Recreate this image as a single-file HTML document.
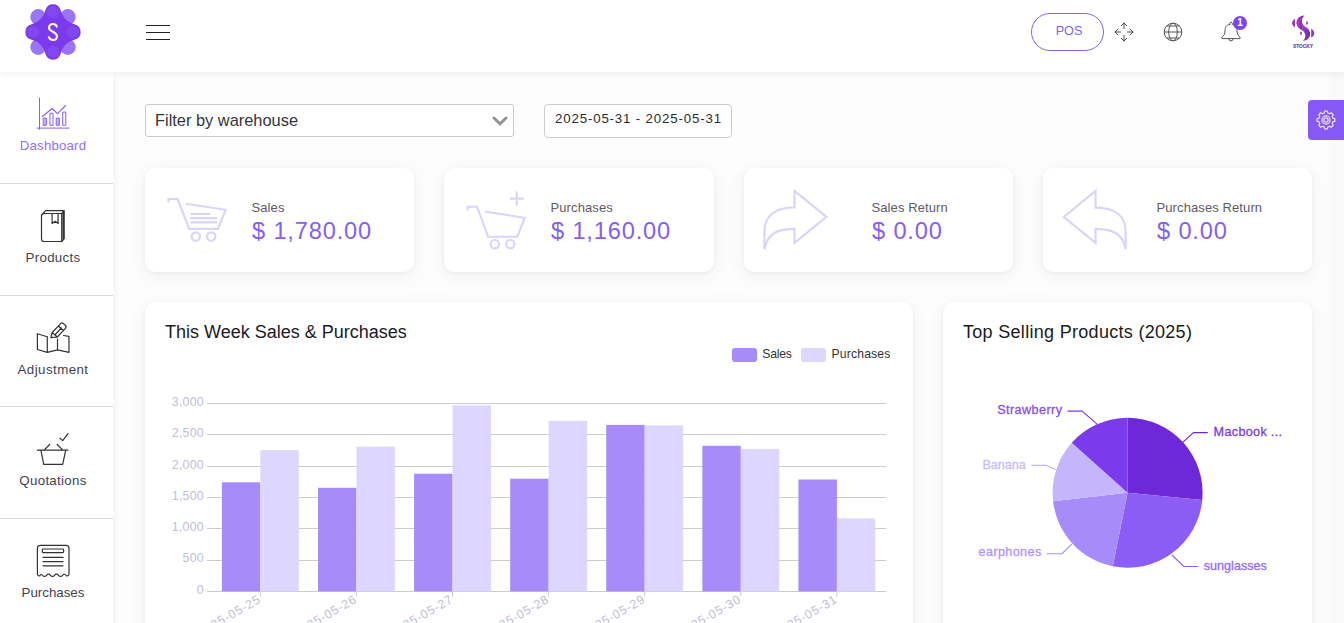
<!DOCTYPE html>
<html>
<head>
<meta charset="utf-8">
<style>
*{box-sizing:border-box;margin:0;padding:0}
html,body{width:1344px;height:623px;overflow:hidden;background:#fdfdfd;font-family:"Liberation Sans",sans-serif;color:#47404f}
svg text{font-family:"Liberation Sans",sans-serif}
.abs{position:absolute}
#header{position:absolute;left:0;top:0;width:1344px;height:72px;background:#fff;box-shadow:0 1px 7px rgba(0,0,0,0.075);z-index:5}
#sidebar{position:absolute;left:0;top:72px;width:113px;height:560px;background:#fff;box-shadow:0 4px 9px rgba(0,0,0,0.07);z-index:4}
.sep{position:absolute;left:0;width:113px;height:1px;background:#dcdcde}
.lbl{position:absolute;left:0;width:106px;text-align:center;font-size:13.3px;color:#453f4d;white-space:nowrap}
.card{position:absolute;background:#fff;border-radius:10px;box-shadow:0 4px 20px 1px rgba(0,0,0,0.05),0 1px 4px rgba(0,0,0,0.05)}
.t{position:absolute;letter-spacing:0.1px;font-size:13px;color:#5f5a66;white-space:nowrap}
.v{position:absolute;font-size:23.6px;color:#8560ee;white-space:nowrap;letter-spacing:0.85px}
.title{position:absolute;font-size:18px;color:#1b1a22;white-space:nowrap}
</style>
</head>
<body>
<div id="header">
  <!-- logo -->
  <svg class="abs" style="left:23.200px;top:1.700px" width="60" height="60" viewBox="-30 -30 60 60">
    <g fill="#9b75f8">
      <circle cx="-14.800" cy="-15" r="7.900"/><circle cx="14.800" cy="-15" r="7.900"/>
      <circle cx="-14.800" cy="15" r="7.900"/><circle cx="14.800" cy="15" r="7.900"/>
    </g>
    <path fill="#7c3aed" d="M-7.5,-22 A7.8,7.8 0 0 1 7.5,-22 Q10.5,-10.5 22,-7.5 A7.8,7.8 0 0 1 22,7.5 Q10.5,10.5 7.5,22 A7.8,7.8 0 0 1 -7.5,22 Q-10.5,10.5 -22,7.5 A7.8,7.8 0 0 1 -22,-7.5 Q-10.5,-10.5 -7.5,-22 Z"/>
    <g fill="#8b5cf6" opacity="0.4">
      <circle cx="0" cy="-20" r="6"/><circle cx="0" cy="20" r="6"/><circle cx="-20" cy="0" r="6"/><circle cx="20" cy="0" r="6"/>
    </g>
    <path transform="translate(0,0.700) scale(0.88,0.93)" d="M4.3,-6.5 C3.5,-8.5 1.8,-9.3 0,-9.3 C-2.8,-9.3 -4.5,-7.7 -4.5,-5.3 C-4.5,-0.5 4.5,-1.5 4.5,3.8 C4.5,6.300 2.6,7.8 0,7.8 C-2.2,7.8 -4,6.8 -4.8,4.8" fill="none" stroke="#fff" stroke-width="2.300" stroke-linecap="round"/>
  </svg>
  <!-- hamburger -->
  <div class="abs" style="left:146px;top:25px;width:24px;height:1px;background:#222"></div>
  <div class="abs" style="left:146px;top:32px;width:24px;height:1px;background:#222"></div>
  <div class="abs" style="left:146px;top:39px;width:24px;height:1px;background:#222"></div>
  <!-- POS -->
  <div class="abs" style="left:1031px;top:13px;width:73px;height:38px;border:1px solid #8762ef;border-radius:19px;color:#8762ef;font-size:12.600px;text-align:center;line-height:35px;padding-left:3px">POS</div>
  <!-- move icon -->
  <svg class="abs" style="left:1112.500px;top:21px" width="22" height="22" viewBox="-11 -11 22 22" fill="none" stroke="#4a4a4a" stroke-width="1" stroke-linecap="round" stroke-linejoin="round">
    <path d="M0,-3.500V-9M-2.800,-6.200L0,-9L2.800,-6.200 M0,3.500V9M-2.800,6.200L0,9L2.800,6.200 M-3.500,0H-9M-6.200,-2.800L-9,0L-6.200,2.800 M3.500,0H9M6.200,-2.800L9,0L6.200,2.800"/>
  </svg>
  <!-- globe -->
  <svg class="abs" style="left:1162px;top:21px" width="22" height="22" viewBox="-11 -11 22 22" fill="none" stroke="#555" stroke-width="1">
    <circle r="8.800"/><ellipse rx="4.300" ry="8.800"/><path d="M-8.800,0H8.800M-6.500,-6H6.500M-6.500,6H6.500"/>
  </svg>
  <!-- bell -->
  <svg class="abs" style="left:1219px;top:20px" width="24" height="24" viewBox="-12 -12 24 24" fill="none" stroke="#555" stroke-width="1" stroke-linejoin="round" stroke-linecap="round">
    <path d="M-1.300,-7.700 V-8.500 A1.300,1.300 0 0 1 1.300,-8.500 V-7.700 C4.800,-6.900 6,-4.300 6,-1.500 C6,2 7,3.600 9,5.200 Q9.900,6 9,6.600 H-9 Q-9.900,6 -9,5.200 C-7,3.600 -6,2 -6,-1.500 C-6,-4.300 -4.800,-6.900 -1.300,-7.700Z"/>
    <path d="M-2.200,6.800 A2.200,2.100 0 0 0 2.200,6.800"/>
  </svg>
  <div class="abs" style="left:1233px;top:16px;width:14px;height:14px;border-radius:7px;background:#7d45ec;color:#fff;font-size:10px;font-weight:bold;text-align:center;line-height:14px">1</div>
  <!-- stocky logo -->
  <svg class="abs" style="left:1288px;top:14px" width="30" height="36" viewBox="0 0 30 36">
    <defs><linearGradient id="sg" x1="0" y1="0" x2="1" y2="0.3"><stop offset="0" stop-color="#c637cf"/><stop offset="1" stop-color="#6032aa"/></linearGradient></defs>
    <path fill="url(#sg)" d="M16.5,1.6 C10,1.6 7.3,7 8.8,11 C10.3,15 14.5,16 17,18.3 C18.2,14.5 15.5,11.8 14.3,9.2 C13.2,6.7 14.2,3.6 16.5,1.6Z"/>
    <path fill="url(#sg)" d="M15,27 C20.500,26.500 23,22 21.8,17.8 C20.7,14 16.500,12.8 13.9,10.600 C13.2,14.500 15.700,17 16.800,19.500 C17.900,22 17.200,25 15,27Z"/>
    <path fill="#8a3cc0" d="M7,4.800 C3,7.500 3,11 7,13.300Z"/>
    <path fill="#8a3cc0" d="M23.200,14.800 C27.300,17 27.300,21.300 23.200,23.800Z"/>
    <rect x="18.300" y="7.500" width="1.400" height="3" fill="#7e22ce"/><rect x="12.300" y="17.800" width="1.400" height="3" fill="#7e22ce"/>
    <text x="14.900" y="33.800" font-size="4.800" font-weight="bold" text-anchor="middle" fill="#6b4fb0" stroke="#6b4fb0" stroke-width="0.200">STOCKY</text>
  </svg>
</div>

<div id="sidebar"></div>
<div style="position:absolute;left:0;top:0;z-index:6">
  <div class="sep" style="top:183px"></div>
  <div class="sep" style="top:295px"></div>
  <div class="sep" style="top:406px"></div>
  <div class="sep" style="top:518px"></div>
  <div class="lbl" id="l1" style="top:138px;letter-spacing:0.15px;color:#9272f5">Dashboard</div>
  <div class="lbl" id="l2" style="top:250px;letter-spacing:0.3px">Products</div>
  <div class="lbl" id="l3" style="top:362px;letter-spacing:0.45px">Adjustment</div>
  <div class="lbl" id="l4" style="top:473px;letter-spacing:0.3px">Quotations</div>
  <div class="lbl" id="l5" style="top:585px">Purchases</div>
  <!-- dashboard icon -->
  <svg class="abs" style="left:0;top:0" width="113" height="623" viewBox="0 0 113 623" fill="none" stroke-linecap="round" stroke-linejoin="round">
    <g stroke="#8b5cf6" stroke-width="1">
      <path d="M39.500,98V129.300M37,128.100H69.200"/>
      <path d="M42.300,116.500L52.100,108.500L57.500,113.600L65.600,105.500" stroke-width="1.100"/>
      <rect x="43.600" y="118.100" width="2.700" height="7.200" fill="#c4b5fd"/>
      <rect x="50.300" y="113.300" width="2.700" height="12"/>
      <rect x="56.600" y="118.100" width="2.700" height="7.200" fill="#c4b5fd"/>
      <rect x="63.100" y="112.100" width="2.700" height="13.200"/>
    </g>
    <g stroke="#333" stroke-width="1.200">
      <!-- products: book -->
      <path d="M44,213.500H61.700V241.500H44A2.500,2.500 0 0 1 41.500,239V216A2.500,2.500 0 0 1 44,213.500Z"/>
      <path d="M42.300,214.300L45.500,210.600H64.200V238.500L61.700,241.500M61.700,213.500L64.200,210.600M63,212.500V240"/>
      <path d="M52.100,213.500V223.500L55.100,221.300L58.100,223.500V213.500"/>
      <!-- adjustment: map + pencil -->
      <path d="M47.300,336.700L37.400,333.700V349.500L47.300,352.300L57.500,349.900L69,352.300V336.300L63.500,335.500M47.300,336.700V352.300M57.500,339V349.900"/>
      <path d="M50.900,337.600L52.200,332.500L60.300,323.800A2.300,2.300 0 0 1 63.500,323.600L65.300,325.200A2.300,2.300 0 0 1 65.400,328.400L57.300,337L50.900,337.600ZM52.200,332.500L57.300,337M58.300,326L63.400,330.500M55.300,334.500L61.300,328"/>
      <!-- quotations: basket -->
      <path d="M37.400,450.200H68M41,450.700L43.700,464.300H62.700L65.600,450.700M44.300,449.900L49.700,444.500M62.600,449.900L57.200,444.500M59.900,438.200L62.700,440.600L68,433.600"/>
      <!-- purchases: receipt -->
      <path d="M37.400,573.500V548.400A3,3 0 0 1 40.400,545.400H66A3,3 0 0 1 69,548.400V573.500A2,2 0 0 1 66.500,575.800Q64.500,573 62.500,575.300Q60.500,577.500 58.500,575.300Q56.500,573 54.500,575.300Q52.500,577.500 50.500,575.300Q48.500,573 46.500,575.300Q44.500,577.500 42.500,575.300Q41,573.500 39.900,575.800A2,2 0 0 1 37.400,573.500Z"/>
      <rect x="42.300" y="549" width="21.300" height="3.600" rx="0.800"/>
      <path d="M43.100,557.400H63M43.100,561.600H63M43.100,565.800H63"/>
    </g>
  </svg>
</div>

<!-- settings tab -->
<div class="abs" style="left:1308px;top:100px;width:40px;height:40px;background:#8659f4;border-radius:4px 0 0 4px;z-index:3"></div>
<svg class="abs" style="left:1314px;top:107.700px;z-index:3" width="24" height="24" viewBox="-14.600 -14.600 29.200 29.200" fill="none" stroke="#e9e1ff" stroke-width="1.550" stroke-linejoin="round">
  <path d="M-2.32,-8.38 L-1.74,-10.76 L1.74,-10.76 L2.32,-8.38 L4.29,-7.57 L6.38,-8.84 L8.84,-6.38 L7.57,-4.29 L8.38,-2.32 L10.76,-1.74 L10.76,1.74 L8.38,2.32 L7.57,4.29 L8.84,6.38 L6.38,8.84 L4.29,7.57 L2.32,8.38 L1.74,10.76 L-1.74,10.76 L-2.32,8.38 L-4.29,7.57 L-6.38,8.84 L-8.84,6.38 L-7.57,4.29 L-8.38,2.32 L-10.76,1.74 L-10.76,-1.74 L-8.38,-2.32 L-7.57,-4.29 L-8.84,-6.38 L-6.38,-8.84 L-4.29,-7.57Z"/>
  <circle r="5"/><circle r="2.600"/>
</svg>

<div class="abs" style="left:1324px;top:71px;width:20px;height:560px;background:linear-gradient(90deg,rgba(0,0,0,0),rgba(0,0,0,0.017) 45%,rgba(0,0,0,0.017));z-index:1"></div>
<!-- filters -->
<div class="abs" style="left:145px;top:104px;width:369px;height:33px;border:1px solid #cacaca;border-radius:3px;background:#fff;font-size:16.400px;line-height:31px;padding-left:9px;color:#35353a">Filter by warehouse</div>
<svg class="abs" style="left:491px;top:114px" width="18" height="14" viewBox="0 0 18 14" fill="none" stroke="#959595" stroke-width="3" stroke-linecap="round" stroke-linejoin="round"><path d="M3,4L9,9.800L15,4"/></svg>
<div class="abs" style="left:544px;top:104px;width:188px;height:34px;border:1px solid #cdcdcd;border-radius:4px;background:#fff;font-size:13.300px;line-height:28px;padding-left:10px;color:#2a2c33;letter-spacing:0.830px">2025-05-31 - 2025-05-31</div>

<!-- stat cards -->
<div class="card" style="left:145px;top:168px;width:269px;height:104px"></div>
<div class="card" style="left:444px;top:168px;width:270px;height:104px"></div>
<div class="card" style="left:744px;top:168px;width:269px;height:104px"></div>
<div class="card" style="left:1043px;top:168px;width:269px;height:104px"></div>
<div class="t" style="left:251.5px;top:200px">Sales</div><div class="v" style="left:252px;top:218px">$ 1,780.00</div>
<div class="t" style="left:550.5px;top:200px">Purchases</div><div class="v" style="left:551px;top:218px">$ 1,160.00</div>
<div class="t" style="left:871.5px;top:200px">Sales Return</div><div class="v" style="left:872px;top:218px">$ 0.00</div>
<div class="t" style="left:1156.5px;top:200px">Purchases Return</div><div class="v" style="left:1157px;top:218px">$ 0.00</div>
<svg class="abs" style="left:0;top:0;z-index:2" width="1344" height="300" viewBox="0 0 1344 300" fill="none" stroke="#d9d4fa" stroke-width="2.150" stroke-linejoin="miter">
  <!-- sales cart -->
  <path d="M168.400,202.500V199H177.600L189.200,228.800H218L225.500,209.800L185.700,203.700"/>
  <path d="M190.400,214H210.300M190.400,218.100H217M190.400,222.400H217"/>
  <circle cx="195.800" cy="236.500" r="4.200"/><circle cx="211.200" cy="236.500" r="4.200"/>
  <!-- purchases cart -->
  <path d="M467.700,210.400V206.700H477L488.100,236.700H517.400L524.700,217.900L484.900,211.500"/>
  <circle cx="494.900" cy="244.200" r="4.200"/><circle cx="510.300" cy="244.200" r="4.200"/>
  <path d="M516.800,191.600V205.600M509.800,198.600H523.800"/>
  <!-- sales return -->
  <path d="M794.500,190.900L826.400,216.800L794.500,242.900V228.800C779,228.800 767.500,232.500 764.400,249.300V232C764.400,216 775,207.300 794.500,207.300Z"/>
  <!-- purchases return -->
  <path d="M1095.600,190.900L1063.900,217L1095.600,242.900V228.800C1111,228.800 1122.500,232.500 1125.700,249.300V232C1125.700,216 1115,207.600 1095.600,207.600Z"/>
</svg>

<!-- chart cards -->
<div class="card" style="left:145px;top:302px;width:768px;height:340px"></div>
<div class="card" style="left:943px;top:302px;width:369px;height:340px"></div>
<div class="title" style="left:165px;top:322px;letter-spacing:0px">This Week Sales &amp; Purchases</div>
<div class="title" style="left:963px;top:322px;letter-spacing:0.300px">Top Selling Products (2025)</div>
<svg class="abs" style="left:0;top:0;z-index:2" width="1344" height="623" viewBox="0 0 1344 623">
<rect x="207" y="403" width="679" height="1" fill="#cccccc"/>
<rect x="207" y="434" width="679" height="1" fill="#cccccc"/>
<rect x="207" y="466" width="679" height="1" fill="#cccccc"/>
<rect x="207" y="497" width="679" height="1" fill="#cccccc"/>
<rect x="207" y="528" width="679" height="1" fill="#cccccc"/>
<rect x="207" y="560" width="679" height="1" fill="#cccccc"/>
<rect x="207" y="591" width="679" height="1" fill="#cccccc"/>
<rect x="221.9" y="482.3" width="38.45" height="109.1" fill="#a78bfa"/>
<rect x="260.35" y="450.1" width="38.45" height="141.3" fill="#ddd6fe"/>
<rect x="259.9" y="591.4" width="1" height="5" fill="#cccccc"/>
<rect x="317.99" y="487.8" width="38.45" height="103.6" fill="#a78bfa"/>
<rect x="356.44" y="446.6" width="38.45" height="144.8" fill="#ddd6fe"/>
<rect x="355.9" y="591.4" width="1" height="5" fill="#cccccc"/>
<rect x="414.08000000000004" y="473.7" width="38.45" height="117.7" fill="#a78bfa"/>
<rect x="452.53" y="405.4" width="38.45" height="186.0" fill="#ddd6fe"/>
<rect x="452.0" y="591.4" width="1" height="5" fill="#cccccc"/>
<rect x="510.16999999999996" y="478.7" width="38.45" height="112.7" fill="#a78bfa"/>
<rect x="548.62" y="420.8" width="38.45" height="170.6" fill="#ddd6fe"/>
<rect x="548.1" y="591.4" width="1" height="5" fill="#cccccc"/>
<rect x="606.26" y="424.9" width="38.45" height="166.5" fill="#a78bfa"/>
<rect x="644.71" y="425.4" width="38.45" height="166.0" fill="#ddd6fe"/>
<rect x="644.2" y="591.4" width="1" height="5" fill="#cccccc"/>
<rect x="702.35" y="445.8" width="38.45" height="145.6" fill="#a78bfa"/>
<rect x="740.80" y="448.9" width="38.45" height="142.5" fill="#ddd6fe"/>
<rect x="740.3" y="591.4" width="1" height="5" fill="#cccccc"/>
<rect x="798.4399999999999" y="479.5" width="38.45" height="111.9" fill="#a78bfa"/>
<rect x="836.89" y="518.4" width="38.45" height="73.0" fill="#ddd6fe"/>
<rect x="836.4" y="591.4" width="1" height="5" fill="#cccccc"/>
<text x="204" y="405.8" text-anchor="end" font-size="12.4" fill="#c0bed4" letter-spacing="0.25">3,000</text>
<text x="204" y="437.1" text-anchor="end" font-size="12.4" fill="#c0bed4" letter-spacing="0.25">2,500</text>
<text x="204" y="468.5" text-anchor="end" font-size="12.4" fill="#c0bed4" letter-spacing="0.25">2,000</text>
<text x="204" y="499.8" text-anchor="end" font-size="12.4" fill="#c0bed4" letter-spacing="0.25">1,500</text>
<text x="204" y="531.1" text-anchor="end" font-size="12.4" fill="#c0bed4" letter-spacing="0.25">1,000</text>
<text x="204" y="562.4" text-anchor="end" font-size="12.4" fill="#c0bed4" letter-spacing="0.25">500</text>
<text x="204" y="593.8" text-anchor="end" font-size="12.4" fill="#c0bed4" letter-spacing="0.25">0</text>
<text transform="translate(261.6,601.8) rotate(-30)" text-anchor="end" font-size="12.4" fill="#c0bed4" letter-spacing="0.7">2025-05-25</text>
<text transform="translate(357.7,601.8) rotate(-30)" text-anchor="end" font-size="12.4" fill="#c0bed4" letter-spacing="0.7">2025-05-26</text>
<text transform="translate(453.8,601.8) rotate(-30)" text-anchor="end" font-size="12.4" fill="#c0bed4" letter-spacing="0.7">2025-05-27</text>
<text transform="translate(549.9,601.8) rotate(-30)" text-anchor="end" font-size="12.4" fill="#c0bed4" letter-spacing="0.7">2025-05-28</text>
<text transform="translate(646.0,601.8) rotate(-30)" text-anchor="end" font-size="12.4" fill="#c0bed4" letter-spacing="0.7">2025-05-29</text>
<text transform="translate(742.0,601.8) rotate(-30)" text-anchor="end" font-size="12.4" fill="#c0bed4" letter-spacing="0.7">2025-05-30</text>
<text transform="translate(838.1,601.8) rotate(-30)" text-anchor="end" font-size="12.4" fill="#c0bed4" letter-spacing="0.7">2025-05-31</text>
<rect x="732" y="348" width="25" height="14" rx="3" fill="#a78bfa"/>
<text x="762.2" y="358.3" font-size="12.2" fill="#333" textLength="29.7" lengthAdjust="spacing">Sales</text>
<rect x="801" y="348" width="25" height="14" rx="3" fill="#ddd6fe"/>
<text x="831.4" y="358.3" font-size="12.2" fill="#333" textLength="59" lengthAdjust="spacing">Purchases</text>
<path d="M1127.6,492.8 L1127.60,417.80 A75,75 0 0 1 1202.25,499.99 Z" fill="#6d28d9"/>
<path d="M1127.6,492.8 L1202.25,499.99 A75,75 0 0 1 1112.78,566.32 Z" fill="#8b5cf6"/>
<path d="M1127.6,492.8 L1112.78,566.32 A75,75 0 0 1 1053.07,501.16 Z" fill="#a78bfa"/>
<path d="M1127.6,492.8 L1053.07,501.16 A75,75 0 0 1 1071.78,442.71 Z" fill="#c4b5fd"/>
<path d="M1127.6,492.8 L1071.78,442.71 A75,75 0 0 1 1127.60,417.80 Z" fill="#7c3aed"/>
<polyline points="1182.5,442.6 1193.4,432.6 1207.8,432.6" fill="none" stroke="#6d28d9" stroke-width="1.1"/>
<polyline points="1171.9,555.0 1183.8,566.5 1198.2,566.5" fill="none" stroke="#8b5cf6" stroke-width="1.1"/>
<polyline points="1071.7,544.1 1062,553.7 1046.7,553.7" fill="none" stroke="#a78bfa" stroke-width="1.1"/>
<polyline points="1055.7,469.6 1046,465.4 1031.3,465.4" fill="none" stroke="#c4b5fd" stroke-width="1.1"/>
<polyline points="1097.4,424.3 1082,411.1 1067.5,411.1" fill="none" stroke="#7c3aed" stroke-width="1.1"/>
<text x="1213.6" y="436.2" font-size="12.6" fill="#6d28d9" stroke="#6d28d9" stroke-width="0.3" opacity="0.9" text-anchor="start" textLength="68.4" lengthAdjust="spacing">Macbook ...</text>
<text x="1203.7" y="569.6" font-size="12.6" fill="#8b5cf6" stroke="#8b5cf6" stroke-width="0.3" opacity="0.9" text-anchor="start" textLength="63.2" lengthAdjust="spacing">sunglasses</text>
<text x="978.6" y="556.4" font-size="12.6" fill="#a78bfa" stroke="#a78bfa" stroke-width="0.3" opacity="0.9" text-anchor="start" textLength="62.6" lengthAdjust="spacing">earphones</text>
<text x="982.5" y="468.6" font-size="12.6" fill="#c4b5fd" stroke="#c4b5fd" stroke-width="0.3" opacity="0.9" text-anchor="start" textLength="43.3" lengthAdjust="spacing">Banana</text>
<text x="997.2" y="414.3" font-size="12.6" fill="#7c3aed" stroke="#7c3aed" stroke-width="0.3" opacity="0.9" text-anchor="start" textLength="64.8" lengthAdjust="spacing">Strawberry</text>
</svg>
</body>
</html>
